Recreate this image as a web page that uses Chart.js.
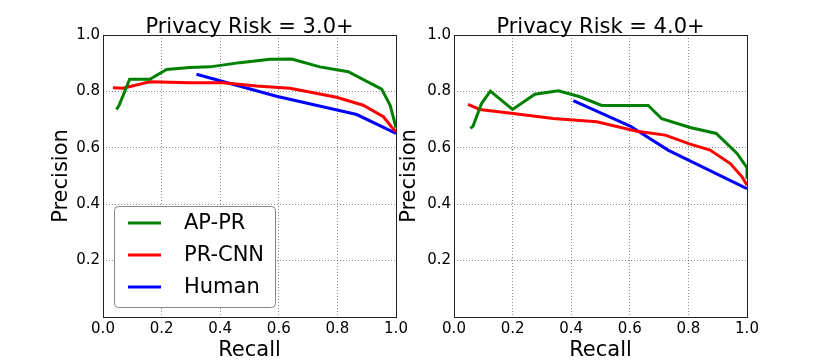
<!DOCTYPE html>
<html>
<head>
<meta charset="utf-8">
<script src="https://cdn.jsdelivr.net/npm/chart.js@4.4.0/dist/chart.umd.min.js"></script>
<style>
    body { margin: 0; background: #fff; }
    #wrap { position: relative; width: 830px; height: 363px; overflow: hidden; }
    canvas { position: absolute; top: 0; }
    #risk3 { left: 0; }
    #risk4 { left: 385px; }
</style>
</head>
<body>
<div id="wrap">
    <canvas id="risk3" width="415" height="363"></canvas>
    <canvas id="risk4" width="445" height="363"></canvas>
</div>
<script>
// axis ticks
const axisTicks = [0.0, 0.2, 0.4, 0.6, 0.8, 1.0];
const seriesNames = ['AP-PR', 'PR-CNN', 'Human'];
const seriesColors = ['#008000', '#ff0000', '#0000ff'];

// Privacy Risk = 3.0+
const apprRecall3 = [0.046, 0.055, 0.091, 0.16, 0.217, 0.296, 0.365, 0.467, 0.57, 0.644, 0.74, 0.837, 0.951, 0.98, 1.0];
const apprPrecision3 = [0.736, 0.751, 0.843, 0.843, 0.878, 0.885, 0.887, 0.902, 0.914, 0.915, 0.887, 0.87, 0.808, 0.751, 0.672];
const cnnRecall3 = [0.034, 0.068, 0.16, 0.296, 0.41, 0.524, 0.638, 0.797, 0.888, 0.957, 0.985, 1.0];
const cnnPrecision3 = [0.813, 0.811, 0.834, 0.831, 0.831, 0.819, 0.811, 0.779, 0.751, 0.71, 0.674, 0.657];
const humanRecall3 = [0.319, 0.592, 0.866, 1.0];
const humanPrecision3 = [0.861, 0.783, 0.718, 0.651];

// Privacy Risk = 4.0+
const apprRecall4 = [0.056, 0.065, 0.094, 0.124, 0.2, 0.276, 0.356, 0.43, 0.504, 0.663, 0.709, 0.806, 0.895, 0.966, 1.0, 1.0];
const apprPrecision4 = [0.669, 0.677, 0.757, 0.801, 0.736, 0.79, 0.802, 0.781, 0.75, 0.75, 0.703, 0.672, 0.651, 0.58, 0.53, 0.49];
const cnnRecall4 = [0.048, 0.088, 0.202, 0.339, 0.487, 0.624, 0.721, 0.806, 0.874, 0.943, 0.983, 1.0];
const cnnPrecision4 = [0.754, 0.736, 0.722, 0.704, 0.692, 0.659, 0.645, 0.613, 0.592, 0.544, 0.497, 0.467];
const humanRecall4 = [0.407, 0.601, 0.732, 1.0];
const humanPrecision4 = [0.767, 0.677, 0.591, 0.455];

const FONT = '"DejaVu Sans", sans-serif';

function points(xs, ys) {
    return xs.map((x, i) => ({x: x, y: ys[i]}));
}

function makeDatasets(pairs) {
    return pairs.map((p, i) => ({
        label: seriesNames[i],
        data: points(p[0], p[1]),
        borderColor: seriesColors[i],
        backgroundColor: seriesColors[i],
        borderWidth: 3,
        pointRadius: 0,
        tension: 0,
        fill: false
    }));
}

// title centred over the plot, black frame round it, legend box inside
const framePlugin = {
    id: 'frame',
    afterDraw(chart) {
        const ctx = chart.ctx;
        const a = chart.chartArea;
        const opts = chart.options.plugins.frame;
        ctx.save();
        ctx.strokeStyle = '#222';
        ctx.lineWidth = 1;
        ctx.strokeRect(Math.round(a.left) + 0.5, Math.round(a.top) + 0.5,
            Math.round(a.right - a.left), Math.round(a.bottom - a.top));

        ctx.fillStyle = '#000';
        ctx.font = '21px ' + FONT;
        ctx.textAlign = 'center';
        ctx.textBaseline = 'alphabetic';
        ctx.fillText(opts.title, (a.left + a.right) / 2, 32.5);

        if (opts.legend) {
            const bx = a.left + 11, by = a.bottom - 111, bw = 161, bh = 101;
            ctx.beginPath();
            ctx.roundRect(bx + 0.5, by + 0.5, bw, bh, 4);
            ctx.fillStyle = '#fff';
            ctx.fill();
            ctx.strokeStyle = '#888';
            ctx.lineWidth = 1;
            ctx.stroke();
            ctx.textBaseline = 'middle';
            chart.data.datasets.forEach((ds, i) => {
                const y = by + 17 + i * 32;
                ctx.beginPath();
                ctx.moveTo(bx + 14, y);
                ctx.lineTo(bx + 47, y);
                ctx.strokeStyle = ds.borderColor;
                ctx.lineWidth = 3;
                ctx.stroke();
                ctx.fillStyle = '#000';
                ctx.textAlign = 'left';
                ctx.fillText(ds.label, bx + 70, y + 1);
            });
        }
        ctx.restore();
    }
};

function makeChart(id, title, pairs, showLegend, pad, yWidth) {
    const gridColor = c => (c.tick.value <= 0 || c.tick.value >= 1) ? 'transparent' : 'rgba(0,0,0,0.45)';
    new Chart(document.getElementById(id).getContext('2d'), {
        type: 'line',
        data: {datasets: makeDatasets(pairs)},
        options: {
            responsive: false,
            animation: false,
            devicePixelRatio: 1,
            layout: {padding: {left: pad.left, right: pad.right, top: 35, bottom: 0}},
            plugins: {
                legend: {display: false},
                tooltip: {enabled: false},
                frame: {title: title, legend: showLegend}
            },
            scales: {
                x: {
                    type: 'linear',
                    min: 0,
                    max: 1,
                    afterBuildTicks: s => { s.ticks = axisTicks.map(v => ({value: v})); },
                    afterFit: s => { s.height = 46; },
                    ticks: {
                        color: '#000',
                        padding: 3,
                        font: {family: FONT, size: 15},
                        maxRotation: 0,
                        callback: v => v.toFixed(1)
                    },
                    grid: {color: gridColor, drawTicks: false, lineWidth: 1},
                    border: {display: false, dash: [1, 2]},
                    title: {display: true, text: 'Recall', color: '#000', font: {family: FONT, size: 21}, padding: {top: 0, bottom: 0}}
                },
                y: {
                    type: 'linear',
                    min: 0,
                    max: 1,
                    afterBuildTicks: s => { s.ticks = axisTicks.map(v => ({value: v})); },
                    afterFit: s => { s.width = yWidth; },
                    ticks: {
                        color: '#000',
                        padding: 3,
                        font: {family: FONT, size: 15},
                        callback: v => v === 0 ? null : v.toFixed(1)
                    },
                    grid: {color: gridColor, drawTicks: false, lineWidth: 1},
                    border: {display: false, dash: [1, 2]},
                    title: {display: true, text: 'Precision', color: '#000', font: {family: FONT, size: 21}, padding: {top: 4, bottom: 4}}
                }
            }
        },
        plugins: [framePlugin]
    });
}

makeChart('risk3', 'Privacy Risk = 3.0+', [
    [apprRecall3, apprPrecision3],
    [cnnRecall3, cnnPrecision3],
    [humanRecall3, humanPrecision3]
], true, {left: 45, right: 19}, 58);

makeChart('risk4', 'Privacy Risk = 4.0+', [
    [apprRecall4, apprPrecision4],
    [cnnRecall4, cnnPrecision4],
    [humanRecall4, humanPrecision4]
], false, {left: 8, right: 83}, 61);
</script>
</body>
</html>
